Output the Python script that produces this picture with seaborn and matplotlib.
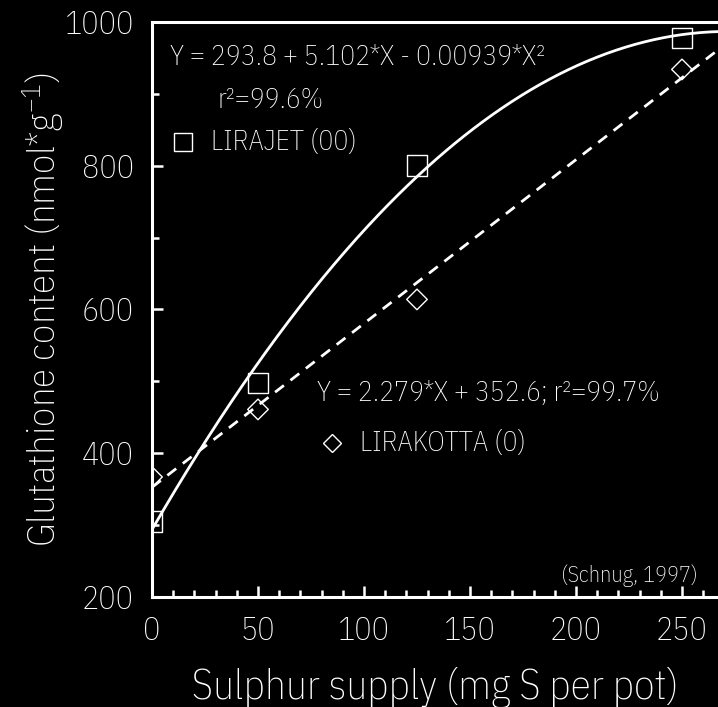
import numpy as np
import pandas as pd
import matplotlib
matplotlib.use("Agg")
import matplotlib.pyplot as plt
from matplotlib import font_manager as fm
from matplotlib.ticker import MultipleLocator
import seaborn as sns

# Measured glutathione contents per sulphur level
s_supply = [0, 50, 125, 250]
lirajet = [305, 498, 800, 978]
lirakotta = [367, 461, 614, 934]

# Regression coefficients reported for each cultivar
quad_coef = (293.8, 5.102, -0.00939)
lin_coef = (352.6, 2.279)

x_ticks = [0, 50, 100, 150, 200, 250]
y_ticks = [200, 400, 600, 800, 1000]

# Pick a narrow sans face that ships a light weight
candidates = ["IBM Plex Sans Condensed", "Barlow Semi Condensed",
              "Fira Sans Condensed", "Encode Sans Semi Condensed",
              "Roboto Condensed", "Roboto", "Lato"]
light_faces = {f.name for f in fm.fontManager.ttflist if f.weight <= 300}
names = {f.name for f in fm.fontManager.ttflist}
family = next((c for c in candidates if c in light_faces),
              next((c for c in candidates if c in names), "DejaVu Sans"))
weight = "light" if family in light_faces else "normal"

sns.set_theme(style="white")
plt.rcParams["font.family"] = [family, "DejaVu Sans"]
plt.rcParams["font.weight"] = weight
plt.rcParams["axes.labelweight"] = weight
plt.rcParams["mathtext.fontset"] = "custom"
plt.rcParams["mathtext.rm"] = f"{family}:{weight}"
plt.rcParams["mathtext.it"] = f"{family}:{weight}"
plt.rcParams["mathtext.default"] = "regular"

fig = plt.figure(figsize=(7.18, 7.07), dpi=100, facecolor="black")
ax = fig.add_axes([0.2117, 0.1556, 0.7883, 0.8133])
ax.set_facecolor("black")

xmax = 267
xs = np.linspace(0, xmax, 300)
fits = pd.DataFrame({
    "x": xs,
    "quad": quad_coef[0] + quad_coef[1] * xs + quad_coef[2] * xs ** 2,
    "lin": lin_coef[0] + lin_coef[1] * xs,
})
pts = pd.DataFrame({"x": s_supply, "jet": lirajet, "kotta": lirakotta})

sns.lineplot(data=fits, x="x", y="quad", ax=ax, color="white", lw=2.0)
sns.lineplot(data=fits, x="x", y="lin", ax=ax, color="white", lw=2.0,
             linestyle=(0, (4, 3)))
sns.scatterplot(data=pts, x="x", y="jet", ax=ax, marker="s", s=220,
                facecolor="none", edgecolor="white", linewidth=1.0, zorder=5)
sns.scatterplot(data=pts, x="x", y="kotta", ax=ax, marker="D", s=110,
                facecolor="none", edgecolor="white", linewidth=1.0, zorder=5)

ax.set_xlim(0, xmax)
ax.set_ylim(200, 1000)
ax.set_xticks(x_ticks)
ax.set_yticks(y_ticks)
ax.xaxis.set_minor_locator(MultipleLocator(10))
ax.yaxis.set_minor_locator(MultipleLocator(100))
ax.tick_params(which="both", direction="in", colors="white", width=1.8,
               bottom=True, left=True, top=False, right=False)
ax.tick_params(which="major", length=8, labelsize=23, labelcolor="white")
ax.tick_params(which="minor", length=5)
ax.tick_params(axis="x", which="major", pad=14)
ax.tick_params(axis="y", which="major", pad=13)

for side in ["left", "bottom", "top"]:
    ax.spines[side].set_color("white")
    ax.spines[side].set_linewidth(2.2)
ax.spines["right"].set_visible(False)

ax.set_xlabel("Sulphur supply (mg S per pot)", color="white", fontsize=30,
              fontweight=weight, labelpad=14)
ax.set_ylabel("Glutathione content (nmol*g$^{-1}$)", color="white",
              fontsize=28, fontweight=weight, labelpad=-1)

txt = dict(color="white", fontsize=20, va="center")
ax.text(8.5, 950, "Y = 293.8 + 5.102*X - 0.00939*X²", **txt)
ax.text(31, 891, "r²=99.6%", **txt)
ax.plot([14.6], [833], marker="s", ms=13, mfc="none", mec="white", mew=1.0)
ax.text(27.8, 833, "LIRAJET (00)", **txt)
ax.text(78, 483, "Y = 2.279*X + 352.6; r²=99.7%", **txt)
ax.plot([85], [414], marker="D", ms=9, mfc="none", mec="white", mew=1.0)
ax.text(98, 414, "LIRAKOTTA (0)", **txt)
ax.text(257.5, 229, "(Schnug, 1997)", color="white", fontsize=16,
        va="center", ha="right")

fig.savefig("out.png", dpi=100, facecolor="black")
